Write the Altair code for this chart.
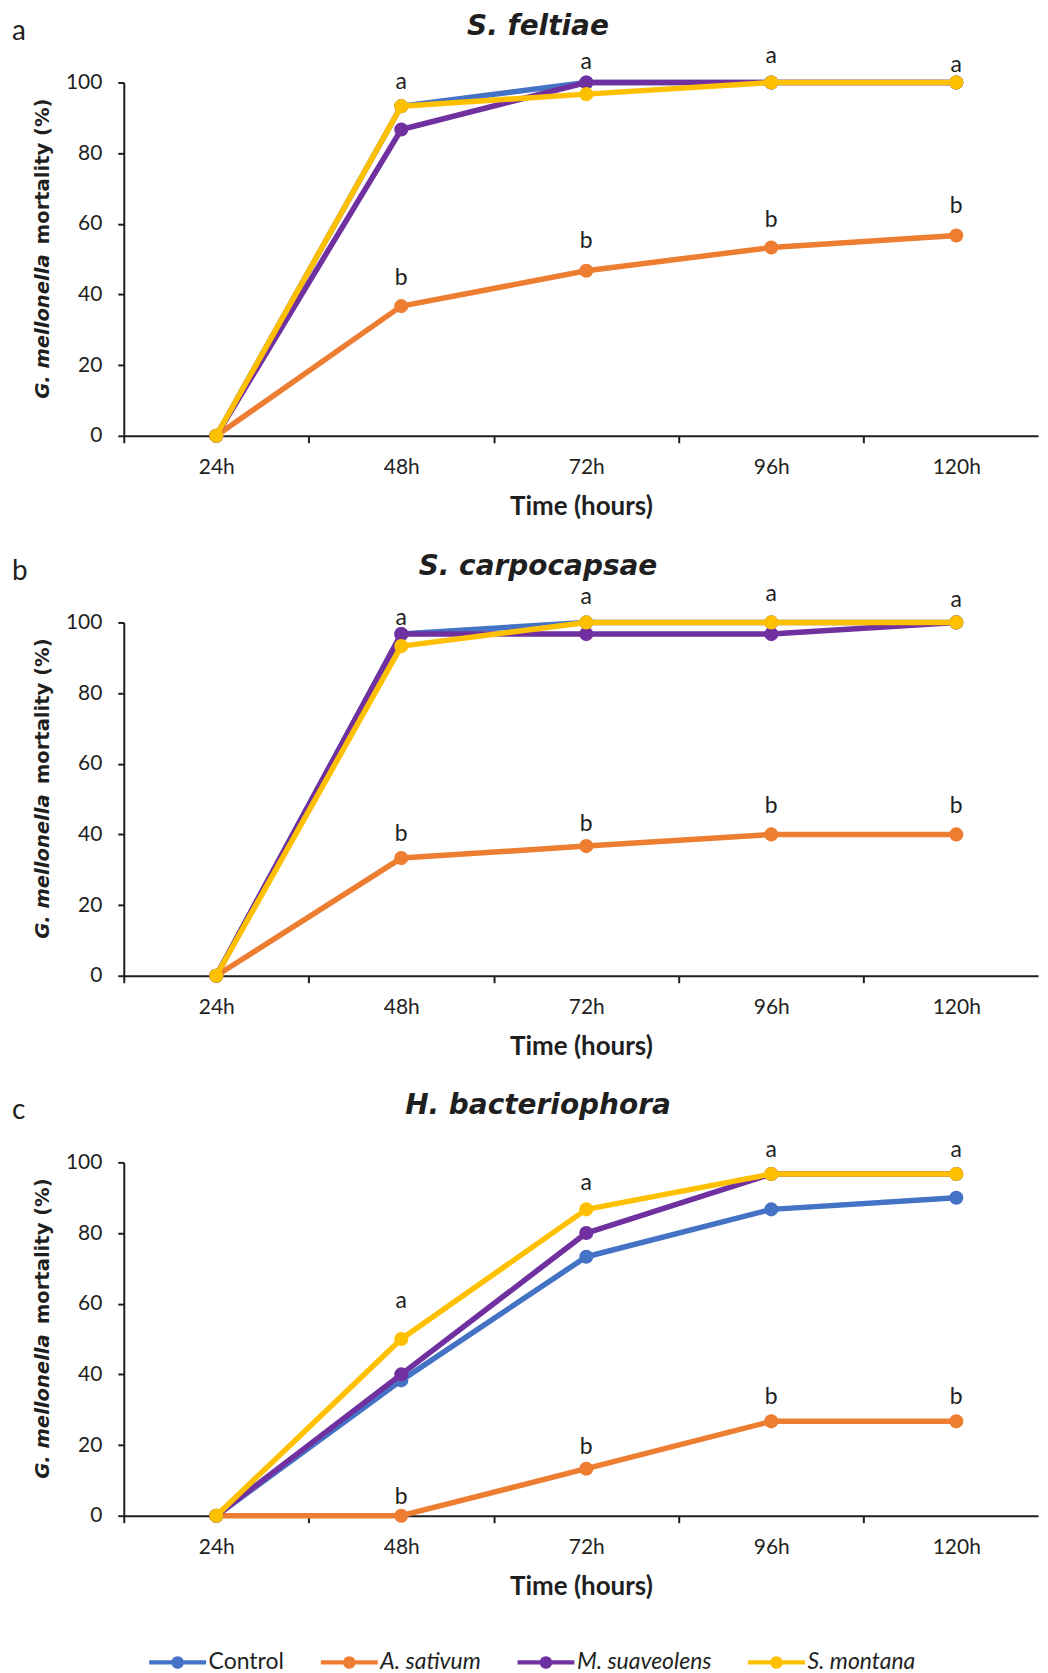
import altair as alt
import pandas as pd

# ---------------- data ----------------
hours = [24, 48, 72, 96, 120]
series = ["Control", "A. sativum", "M. suaveolens", "S. montana"]
colors = ["#4472C4", "#ED7D31", "#7030A0", "#FFC000"]
panel_titles = ["S. feltiae", "S. carpocapsae", "H. bacteriophora"]
panel_tags = ["a", "b", "c"]

feltiae_control = [0, 93.3, 100, 100, 100]
feltiae_sativum = [0, 36.7, 46.7, 53.3, 56.7]
feltiae_suaveolens = [0, 86.7, 100, 100, 100]
feltiae_montana = [0, 93.3, 96.7, 100, 100]

carpo_control = [0, 96.7, 100, 100, 100]
carpo_sativum = [0, 33.3, 36.7, 40, 40]
carpo_suaveolens = [0, 96.7, 96.7, 96.7, 100]
carpo_montana = [0, 93.3, 100, 100, 100]

bacterio_control = [0, 38.3, 73.3, 86.7, 90]
bacterio_sativum = [0, 0, 13.3, 26.7, 26.7]
bacterio_suaveolens = [0, 40, 80, 96.7, 96.7]
bacterio_montana = [0, 50, 86.7, 96.7, 96.7]

# significance letters (hour, label height in % units)
letter_hours = [48, 72, 96, 120]
feltiae_a_y = [100, 105.8, 107.5, 104.9]
feltiae_b_y = [44.6, 55.2, 61.2, 64.9]
carpo_a_y = [101.3, 107.2, 108.1, 106.4]
carpo_b_y = [40.0, 42.9, 48.1, 48.1]
bacterio_a_y = [60.8, 94.3, 103.5, 103.5]
bacterio_b_y = [5.4, 19.3, 33.7, 33.7]

y_ticks = [0, 20, 40, 60, 80, 100]
x_tick_values = [12, 24, 36, 48, 60, 72, 84, 96, 108, 120]

panel_values = [
    [feltiae_control, feltiae_sativum, feltiae_suaveolens, feltiae_montana],
    [carpo_control, carpo_sativum, carpo_suaveolens, carpo_montana],
    [bacterio_control, bacterio_sativum, bacterio_suaveolens, bacterio_montana],
]
panel_letters = [
    (feltiae_a_y, feltiae_b_y),
    (carpo_a_y, carpo_b_y),
    (bacterio_a_y, bacterio_b_y),
]

# ---------------- styling ----------------
W, H = 916, 354
AXIS_COLOR = "#1f1f1f"
TEXT_COLOR = "#1f1f1f"

legend_path = (
    "M-1.5,-0.11 H1.5 V0.11 H-1.5 Z "
    "M0.33,0 A0.33,0.33 0 1,1 -0.33,0 A0.33,0.33 0 1,1 0.33,0 Z"
)

x_scale = alt.Scale(domain=[12, 130.6], nice=False, zero=False)
y_scale = alt.Scale(domain=[0, 100], nice=False)
color_scale = alt.Scale(domain=series, range=colors)

x_axis = alt.Axis(
    title="Time (hours)",
    values=x_tick_values,
    labelExpr="datum.value % 24 == 0 ? datum.value + 'h' : ''",
    tickOpacity={"condition": {"test": "datum.value % 24 == 0", "value": 0}, "value": 1},
    grid=False,
    labelOverlap=False,
    labelFlush=False,
    domainColor=AXIS_COLOR,
    domainWidth=2,
    tickColor=AXIS_COLOR,
    tickWidth=2,
    tickSize=7,
    labelPadding=14,
    labelFont="Lato",
    labelFontSize=21,
    labelColor=TEXT_COLOR,
    titleFont="Lato",
    titleFontSize=26,
    titleFontWeight="bold",
    titleColor=TEXT_COLOR,
    titlePadding=16,
)
y_axis = alt.Axis(
    title=None,
    values=y_ticks,
    grid=False,
    domainColor=AXIS_COLOR,
    domainWidth=2,
    tickColor=AXIS_COLOR,
    tickWidth=2,
    tickSize=6,
    labelPadding=16,
    labelFont="Lato",
    labelFontSize=21,
    labelColor=TEXT_COLOR,
)

legend = alt.Legend(
    title=None,
    orient="none",
    legendX=35,
    legendY=1564,
    direction="horizontal",
    columns=4,
    symbolType=legend_path,
    symbolSize=1444,
    symbolStrokeWidth=0,
    symbolOpacity=1,
    labelFont="Lato",
    labelFontSize=23,
    labelColor=TEXT_COLOR,
    labelOffset=12,
    columnPadding=36,
    labelFontStyle=alt.ExprRef(expr="datum.label == 'Control' ? 'normal' : 'italic'"),
)


def make_panel(idx):
    rows = []
    for s, vals in zip(series, panel_values[idx]):
        for h, v in zip(hours, vals):
            rows.append({"hour": h, "value": v, "series": s})
    df = pd.DataFrame(rows)

    a_y, b_y = panel_letters[idx]
    lrows = []
    for h, ya, yb in zip(letter_hours, a_y, b_y):
        lrows.append({"hour": h, "value": ya, "label": "a"})
        lrows.append({"hour": h, "value": yb, "label": "b"})
    ldf = pd.DataFrame(lrows)

    layers = []
    for s, c in zip(series, colors):
        base = alt.Chart(df).transform_filter(alt.datum.series == s)
        line = base.mark_line(strokeWidth=5.5, strokeJoin="round", strokeCap="round").encode(
            x=alt.X("hour:Q", scale=x_scale, axis=x_axis),
            y=alt.Y("value:Q", scale=y_scale, axis=y_axis),
            color=alt.value(c),
        )
        pts = base.mark_point(filled=True, size=200, opacity=1).encode(
            x=alt.X("hour:Q", scale=x_scale, axis=x_axis),
            y=alt.Y("value:Q", scale=y_scale, axis=y_axis),
            color=alt.Color("series:N", scale=color_scale, legend=legend),
        )
        layers += [line, pts]

    letters = alt.Chart(ldf).mark_text(
        font="Lato", fontSize=23, color=TEXT_COLOR, baseline="middle", align="center"
    ).encode(
        x=alt.X("hour:Q", scale=x_scale, axis=x_axis),
        y=alt.Y("value:Q", scale=y_scale, axis=y_axis),
        text="label:N",
    )

    title_df = pd.DataFrame({"t": [panel_titles[idx]]})
    title = alt.Chart(title_df).mark_text(
        font="DejaVu Sans", fontSize=28, fontWeight="bold", fontStyle="italic",
        color=TEXT_COLOR, align="center", baseline="alphabetic",
    ).encode(text="t:N", x=alt.value(415), y=alt.value(-48))

    tag_df = pd.DataFrame({"t": [panel_tags[idx]]})
    tag = alt.Chart(tag_df).mark_text(
        font="Lato", fontSize=28, color=TEXT_COLOR, align="left", baseline="alphabetic",
    ).encode(text="t:N", x=alt.value(-112), y=alt.value(-43))

    yt1_df = pd.DataFrame({"t": ["G. mellonella"]})
    yt1 = alt.Chart(yt1_df).mark_text(
        font="DejaVu Sans", fontSize=19.6, fontWeight="bold", fontStyle="italic",
        color=TEXT_COLOR, align="left", baseline="middle", angle=270,
    ).encode(text="t:N", x=alt.value(-81), y=alt.value(317))

    yt2_df = pd.DataFrame({"t": ["mortality (%)"]})
    yt2 = alt.Chart(yt2_df).mark_text(
        font="DejaVu Sans", fontSize=19.6, fontWeight="bold",
        color=TEXT_COLOR, align="right", baseline="middle", angle=270,
    ).encode(text="t:N", x=alt.value(-81), y=alt.value(16))

    layers += [letters, title, tag, yt1, yt2]
    return alt.layer(*layers).properties(width=W, height=H)


chart = alt.vconcat(
    make_panel(0), make_panel(1), make_panel(2), spacing=187, bounds="flush"
).properties(
    padding={"left": 4, "top": 3, "right": 2, "bottom": 4}
).configure(background="white").configure_view(stroke=None)

chart.save("out.html", embed_options={"renderer": "svg", "actions": False})
